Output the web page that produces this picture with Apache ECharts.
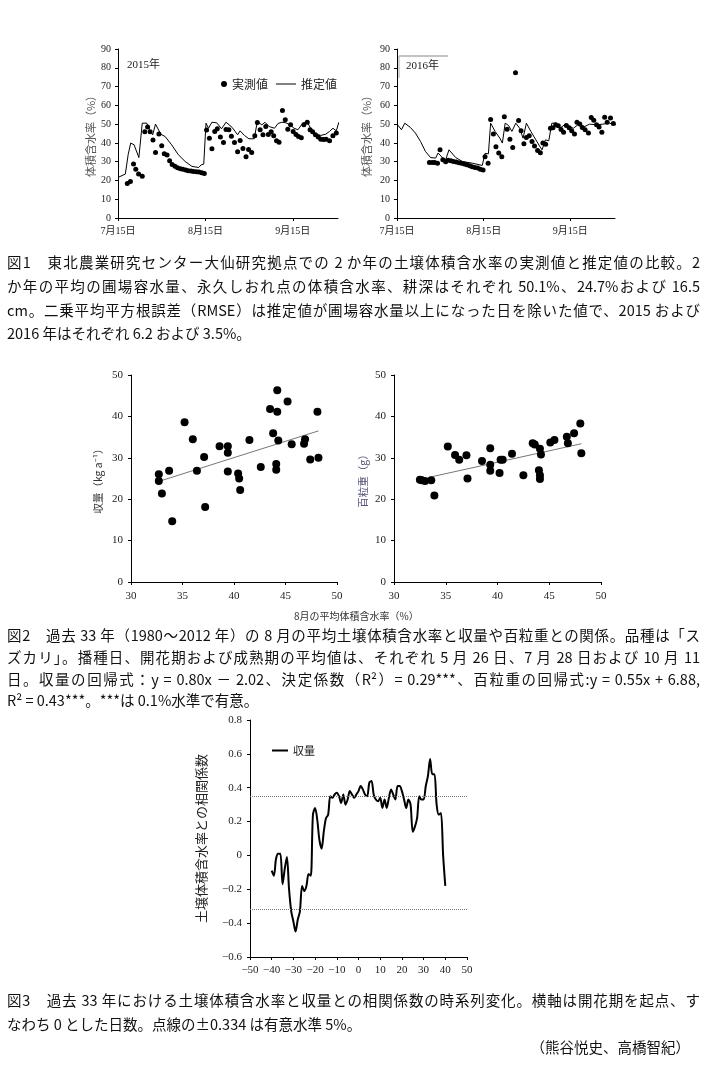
<!DOCTYPE html>
<html><head><meta charset="utf-8">
<script src="https://cdn.jsdelivr.net/npm/echarts@6/dist/echarts.min.js"></script>
<style>
html,body{margin:0;padding:0;background:#fff;}
#chart{position:absolute;left:0;top:0;width:705px;height:1090px;}
.cap{position:absolute;left:7px;width:693px;font-family:"Noto Sans CJK JP",sans-serif;font-size:14.5px;line-height:20px;color:#111;white-space:nowrap;text-align:justify;text-align-last:justify;}
.cap.last{text-align-last:left;}
.cap.right{text-align-last:right;width:683px;}
</style></head>
<body>
<div id="chart"></div>
<div class="cap" style="top:252px">図1　東北農業研究センター大仙研究拠点での 2 か年の土壌体積含水率の実測値と推定値の比較。2</div>
<div class="cap" style="top:276px">か年の平均の圃場容水量、永久しおれ点の体積含水率、耕深はそれぞれ 50.1%、24.7%および 16.5</div>
<div class="cap" style="top:300px">cm。二乗平均平方根誤差（RMSE）は推定値が圃場容水量以上になった日を除いた値で、2015 および</div>
<div class="cap last" style="top:323px">2016 年はそれぞれ 6.2 および 3.5%。</div>
<div class="cap" style="top:625px">図2　過去 33 年（1980～2012 年）の 8 月の平均土壌体積含水率と収量や百粒重との関係。品種は「ス</div>
<div class="cap" style="top:647px">ズカリ」。播種日、開花期および成熟期の平均値は、それぞれ 5 月 26 日、7 月 28 日および 10 月 11</div>
<div class="cap" style="top:669px">日。収量の回帰式：y = 0.80x － 2.02、決定係数（R²）= 0.29***、百粒重の回帰式:y = 0.55x + 6.88,</div>
<div class="cap last" style="top:690px">R² = 0.43***。***は 0.1%水準で有意。</div>
<div class="cap" style="top:990px">図3　過去 33 年における土壌体積含水率と収量との相関係数の時系列変化。横軸は開花期を起点、す</div>
<div class="cap last" style="top:1014px">なわち 0 とした日数。点線の±0.334 は有意水準 5%。</div>
<div class="cap right" style="top:1037px">（熊谷悦史、高橋智紀）</div>
<script>
// ---------- Fig.1 data (days since 7/15) ----------
const dateTickDays = [0, 31, 62];
const dateTickLabels = ['7月15日', '8月15日', '9月15日'];

const obs2015Day = [3.3,4.4,5.5,6.3,7.3,8.6,9.5,10.5,11.4,12.4,13.3,14.5,15.5,16.4,17.4,18.3,19.2,20.2,21.1,22.1,23.0,24.0,24.9,25.9,26.8,27.8,28.7,29.7,30.6,31.4,32.4,33.3,34.3,35.2,36.3,37.4,38.3,39.3,40.2,41.3,42.4,43.3,44.3,45.4,46.3,47.4,48.5,49.4,50.4,51.4,52.4,53.3,54.3,55.2,56.2,57.1,58.3,59.3,60.2,61.2,62.1,63.1,64.0,65.0,65.9,67.1,68.1,69.0,70.0,71.0,71.9,72.9,73.8,75.0,76.2,77.4,78.3];
const obs2015Val = [18.4,19.5,28.7,25.9,23.4,22.3,45.9,48.4,45.9,41.5,34.9,44.8,38.5,34.2,33.5,30.5,28.5,27.5,26.8,26.2,25.9,25.5,25.2,25.0,24.8,24.6,24.5,24.1,23.7,46.8,42.5,36.9,46.1,47.5,43.2,40.2,47.1,47.0,43.6,40.2,35.3,41.3,37.0,32.6,36.5,34.9,43.8,50.9,47.0,44.3,48.7,44.5,45.9,43.8,41.1,40.4,57.2,52.3,47.3,49.6,46.1,44.5,43.4,42.7,49.6,51.0,47.0,45.9,44.3,43.1,42.0,41.8,42.0,41.1,43.8,45.2,43.1];
const est2015Day = [0,2.6,3.6,4.5,5.7,7.4,8.6,10.2,11.2,12.3,13.3,15.2,16.7,19,21.4,23.8,26.2,28.6,29.5,30.4,31.2,32.1,33.3,35,36.7,38.3,40.5,42.4,43.3,44.8,46.4,48.3,49.4,51,52.1,53.6,55.5,56.7,58.1,59.5,61,62.4,63.8,65.5,67.1,68.6,70.2,71.9,73.6,75,76.2,77.4,78.3];
const est2015Val = [21.6,23.4,33.7,39.9,39.0,32.2,50.5,50.5,47,44.3,50,44.6,43.4,39,33.7,30.1,27.5,26.9,28.3,28.7,50.5,47.8,51,50.7,47.5,51,48.2,44.3,46.4,44,42.2,42.2,51.4,49.6,51,48.7,47.8,50.3,51,50.7,49.6,47.8,47,50.5,51,47,44.6,44,44.6,46.1,47.8,46.4,51];

const obs2016Day = [11.6,12.6,13.5,14.5,15.4,16.4,17.4,18.3,19.3,20.2,21.2,22.2,23.1,24.1,25.0,26.0,26.9,27.9,28.9,29.8,30.8,31.5,32.6,33.5,34.5,35.4,36.4,37.5,38.4,39.4,40.4,41.4,42.4,43.5,44.4,45.4,46.3,47.3,48.3,49.2,50.3,51.3,52.2,53.2,54.9,55.8,56.8,57.7,58.7,59.6,60.6,61.6,62.5,63.5,64.4,65.4,66.3,67.3,68.5,69.5,70.4,71.4,72.3,73.3,74.3,75.2,76.4,77.4,78.3];
const obs2016Val = [29.6,29.6,29.6,29.1,36.3,31.0,29.9,30.7,30.5,30.1,29.8,29.4,29.1,28.7,28.4,27.8,27.3,26.9,26.6,26.0,25.5,32.6,29.2,52.5,44.8,37.9,34.6,32.6,53.9,47.3,42.0,37.6,77.4,51.9,46.4,39.5,42.9,43.8,40.8,38.3,36.0,34.7,39.9,39.3,47.8,48.0,49.6,49.1,47.1,45.7,49.3,48.0,46.4,44.7,51.0,50.0,48.2,47.0,45.2,53.5,52.1,49.6,48.4,45.7,53.7,51.0,53.3,50.3,48.2];
const est2016Day = [0,1.6,2.8,4.8,6.6,8.4,10.2,12,13.8,14.7,16.4,17.4,18.6,21,23.4,26.9,30.5,31.5,32.7,33.5,35.1,36.8,37.7,38.7,39.9,41.1,42.5,43.9,45.1,46.3,47.9,49.7,51.1,51.9,53.1,54.3,55.4,56.9,58.3,59.9,61.7,63.1,64.7,66.5,68.9,71.3,73.7,76,78.4];
const est2016Val = [50,47,50.5,48.2,45.2,40.8,35.4,32.2,31.9,34.6,31.9,31.0,36.3,32.2,30.1,29.2,28,34.4,34.2,50.5,46.1,42.5,39.9,50.5,49.3,46.1,50.5,47.8,42.5,50.5,46.1,41.6,38.1,36.3,41.6,41.1,50.5,50.5,47.8,49.6,48.7,47.8,49.6,48.2,50,49.6,50,50.5,49.6];

// ---------- Fig.2 data ----------
const yieldX = [32.7,32.7,33.0,33.7,34.0,35.2,36.0,36.4,37.1,37.2,38.6,39.4,39.4,39.4,40.4,40.5,40.6,41.5,42.6,43.5,43.8,44.2,44.2,44.1,44.1,44.3,45.2,45.6,46.8,46.9,47.4,48.1,48.2];
const yieldY = [26.0,24.4,21.4,26.9,14.7,38.6,34.5,26.9,30.2,18.1,32.8,32.8,31.2,26.7,26.2,25.0,22.2,34.3,27.8,41.8,35.9,46.3,41.1,28.5,27.1,34.2,43.6,33.3,33.4,34.5,29.6,41.1,30.0];
const yieldFitX = [32.7, 48.2];
const yieldFitY = [24.3, 36.5];
const grainX = [32.5,32.7,33.0,33.6,33.9,35.2,35.9,36.3,37.0,37.1,38.5,39.3,39.3,39.3,40.2,40.3,40.5,41.4,42.5,43.4,43.6,44.1,44.0,44.1,44.1,44.2,45.1,45.5,46.7,46.8,47.4,48.0,48.1];
const grainY = [24.7,24.6,24.4,24.6,20.9,32.7,30.7,29.5,30.6,25.0,29.2,32.3,28.3,26.9,26.3,29.5,29.5,31.0,25.8,33.5,33.2,32.2,27.0,25.8,24.9,30.8,33.7,34.3,35.1,33.5,35.9,38.3,31.1];
const grainFitX = [33.6, 48.1];
const grainFitY = [25.4, 33.4];

// ---------- Fig.3 data ----------
const corrDays = [-40,-39,-38,-37,-36,-35,-34,-33,-32,-31,-30,-29,-28,-27,-26,-25,-24,-23,-22,-21,-20,-19,-18,-17,-16,-15,-14,-13,-12,-11,-10,-9,-8,-7,-6,-5,-4,-3,-2,-1,0,1,2,3,4,5,6,7,8,9,10,11,12,13,14,15,16,17,18,19,20,21,22,23,24,25,26,27,28,29,30,31,32,33,34,35,36,37,38,39,40];
const corrVals = [-0.09,-0.12,-0.02,0.01,0.01,-0.17,-0.08,-0.01,-0.20,-0.33,-0.39,-0.45,-0.38,-0.33,-0.18,-0.21,-0.18,-0.11,-0.12,0.24,0.28,0.21,0.09,0.04,0.14,0.22,0.24,0.35,0.34,0.36,0.37,0.35,0.31,0.36,0.30,0.33,0.38,0.36,0.34,0.36,0.38,0.41,0.39,0.36,0.35,0.43,0.44,0.36,0.33,0.32,0.34,0.28,0.33,0.28,0.34,0.39,0.36,0.33,0.41,0.41,0.38,0.33,0.28,0.33,0.30,0.14,0.17,0.22,0.35,0.33,0.33,0.41,0.47,0.57,0.48,0.48,0.30,0.24,0.25,0.00,-0.18];
const sigLevels = [0.354, -0.317];

const zip = (a, b) => a.map((v, i) => [v, b[i]]);
const FONT = '"Liberation Serif", "Noto Sans CJK JP", serif';
const CJK = '"Noto Sans CJK JP", sans-serif';
const BLACK = '#000';
const minus = s => String(s).replace('-', '−');

function valAxis(extra) {
  return Object.assign({
    type: 'value',
    axisLine: { show: true, onZero: false, lineStyle: { color: BLACK, width: 1 } },
    axisTick: { show: true, length: 3, lineStyle: { color: BLACK } },
    axisLabel: { fontFamily: FONT, fontSize: 11, color: '#222' },
    splitLine: { show: false }
  }, extra);
}

const chart = echarts.init(document.getElementById('chart'), null, { renderer: 'canvas' });
const dateFmt = v => { const i = dateTickDays.indexOf(v); return i >= 0 ? dateTickLabels[i] : ''; };
const dot = { color: BLACK, opacity: 1 };

const option = {
  animation: false,
  backgroundColor: '#fff',
  grid: [
    { left: 118, top: 49, width: 220, height: 169, outerBoundsMode: 'none' },
    { left: 397, top: 49, width: 218, height: 169, outerBoundsMode: 'none' },
    { left: 131, top: 375, width: 206, height: 207, outerBoundsMode: 'none' },
    { left: 394, top: 375, width: 207, height: 207, outerBoundsMode: 'none' },
    { left: 250, top: 720, width: 217, height: 237, outerBoundsMode: 'none' }
  ],
  xAxis: [
    valAxis({ gridIndex: 0, min: 0, max: 78,
      axisTick: { show: true, length: 3, customValues: dateTickDays, lineStyle: { color: BLACK } },
      axisLabel: { customValues: dateTickDays, formatter: dateFmt, fontFamily: FONT, fontSize: 10, color: '#222', margin: 8 } }),
    valAxis({ gridIndex: 1, min: 0, max: 78,
      axisTick: { show: true, length: 3, customValues: dateTickDays, lineStyle: { color: BLACK } },
      axisLabel: { customValues: dateTickDays, formatter: dateFmt, fontFamily: FONT, fontSize: 10, color: '#222', margin: 8 } }),
    valAxis({ gridIndex: 2, min: 30, max: 50, interval: 5, axisLabel: { fontFamily: FONT, fontSize: 11, color: '#222', margin: 9 } }),
    valAxis({ gridIndex: 3, min: 30, max: 50, interval: 5, axisLabel: { fontFamily: FONT, fontSize: 11, color: '#222', margin: 9 } }),
    valAxis({ gridIndex: 4, min: -50, max: 50, interval: 10,
      axisLabel: { fontFamily: FONT, fontSize: 11, color: '#222', margin: 8, formatter: v => minus(v) } })
  ],
  yAxis: [
    valAxis({ gridIndex: 0, min: 0, max: 90, interval: 10,
      axisLabel: { fontFamily: FONT, fontSize: 10, color: '#222', margin: 7 },
      name: '体積含水率（%）', nameLocation: 'middle', nameRotate: 90, nameGap: 22,
      nameTextStyle: { fontFamily: CJK, fontSize: 11, color: '#555' } }),
    valAxis({ gridIndex: 1, min: 0, max: 90, interval: 10,
      axisLabel: { fontFamily: FONT, fontSize: 10, color: '#222', margin: 7 },
      name: '体積含水率（%）', nameLocation: 'middle', nameRotate: 90, nameGap: 25,
      nameTextStyle: { fontFamily: CJK, fontSize: 11, color: '#555' } }),
    valAxis({ gridIndex: 2, min: 0, max: 50, interval: 10,
      axisLabel: { fontFamily: FONT, fontSize: 11, color: '#222', margin: 8 },
      name: '収量（kg a⁻¹）', nameLocation: 'middle', nameRotate: 90, nameGap: 28,
      nameTextStyle: { fontFamily: CJK, fontSize: 10.5, color: '#333' } }),
    valAxis({ gridIndex: 3, min: 0, max: 50, interval: 10,
      axisLabel: { fontFamily: FONT, fontSize: 11, color: '#222', margin: 8 },
      name: '百粒重（g）', nameLocation: 'middle', nameRotate: 90, nameGap: 26,
      nameTextStyle: { fontFamily: CJK, fontSize: 10.5, color: '#557' } }),
    valAxis({ gridIndex: 4, min: -0.6, max: 0.8, interval: 0.2,
      axisLabel: { fontFamily: FONT, fontSize: 11, color: '#222', margin: 8,
        formatter: v => Math.abs(v) < 1e-9 ? '0' : minus(v.toFixed(1)) },
      name: '土壌体積含水率との相関係数', nameLocation: 'middle', nameRotate: 90, nameGap: 42,
      nameTextStyle: { fontFamily: CJK, fontSize: 13, color: '#222' } })
  ],
  legend: [
    { data: [{ name: '実測値', icon: 'circle' }], left: 216, top: 73, itemWidth: 6, itemHeight: 6,
      selectedMode: false, textStyle: { fontFamily: CJK, fontSize: 12, color: '#222' } },
    { data: [{ name: '推定値', icon: 'rect' }], left: 271, top: 73, itemWidth: 20, itemHeight: 1,
      selectedMode: false, itemStyle: { color: BLACK }, textStyle: { fontFamily: CJK, fontSize: 12, color: '#222' } },
    { data: [{ name: '収量', icon: 'rect' }], left: 267, top: 740, itemWidth: 16, itemHeight: 2,
      selectedMode: false, itemStyle: { color: BLACK }, textStyle: { fontFamily: CJK, fontSize: 11, color: '#222' } }
  ],
  graphic: [
    { type: 'text', left: 127, top: 60, style: { text: '2015年', font: '11px ' + FONT, fill: '#222' } },
    { type: 'text', left: 406, top: 61, style: { text: '2016年', font: '11px ' + FONT, fill: '#222' } },
    { type: 'line', shape: { x1: 399, y1: 56, x2: 448, y2: 56 }, style: { stroke: '#888', lineWidth: 1 } },
    { type: 'line', shape: { x1: 399, y1: 56, x2: 399, y2: 78 }, style: { stroke: '#aaa', lineWidth: 1 } },
    { type: 'text', left: 294, top: 611, style: { text: '8月の平均体積含水率（%）', font: '10px ' + CJK, fill: '#333' } }
  ],
  series: [
    { name: '推定値', type: 'line', xAxisIndex: 0, yAxisIndex: 0, data: zip(est2015Day, est2015Val),
      symbol: 'none', lineStyle: { color: BLACK, width: 1 }, itemStyle: { color: BLACK }, z: 2 },
    { name: '実測値', type: 'scatter', xAxisIndex: 0, yAxisIndex: 0, data: zip(obs2015Day, obs2015Val),
      symbolSize: 5, itemStyle: dot, z: 3 },
    { name: '推定値', type: 'line', xAxisIndex: 1, yAxisIndex: 1, data: zip(est2016Day, est2016Val),
      symbol: 'none', lineStyle: { color: BLACK, width: 1 }, itemStyle: { color: BLACK }, z: 2 },
    { name: '実測値', type: 'scatter', xAxisIndex: 1, yAxisIndex: 1, data: zip(obs2016Day, obs2016Val),
      symbolSize: 5, itemStyle: dot, z: 3 },
    { name: '収量回帰', type: 'line', xAxisIndex: 2, yAxisIndex: 2, data: zip(yieldFitX, yieldFitY),
      symbol: 'none', lineStyle: { color: '#777', width: 1 }, z: 2 },
    { name: '収量点', type: 'scatter', xAxisIndex: 2, yAxisIndex: 2, data: zip(yieldX, yieldY),
      symbolSize: 8, itemStyle: dot, z: 3 },
    { name: '百粒重回帰', type: 'line', xAxisIndex: 3, yAxisIndex: 3, data: zip(grainFitX, grainFitY),
      symbol: 'none', lineStyle: { color: '#777', width: 1 }, z: 2 },
    { name: '百粒重', type: 'scatter', xAxisIndex: 3, yAxisIndex: 3, data: zip(grainX, grainY),
      symbolSize: 8, itemStyle: dot, z: 3 },
    { name: '収量', type: 'line', xAxisIndex: 4, yAxisIndex: 4, data: zip(corrDays, corrVals),
      symbol: 'none', smooth: 0.3, lineStyle: { color: BLACK, width: 2 }, itemStyle: { color: BLACK },
      markLine: { silent: true, symbol: 'none', label: { show: false },
        lineStyle: { color: '#777', type: 'dotted', width: 1 },
        data: sigLevels.map(v => ({ yAxis: v })) } }
  ]
};
chart.setOption(option);
</script>
</body></html>
